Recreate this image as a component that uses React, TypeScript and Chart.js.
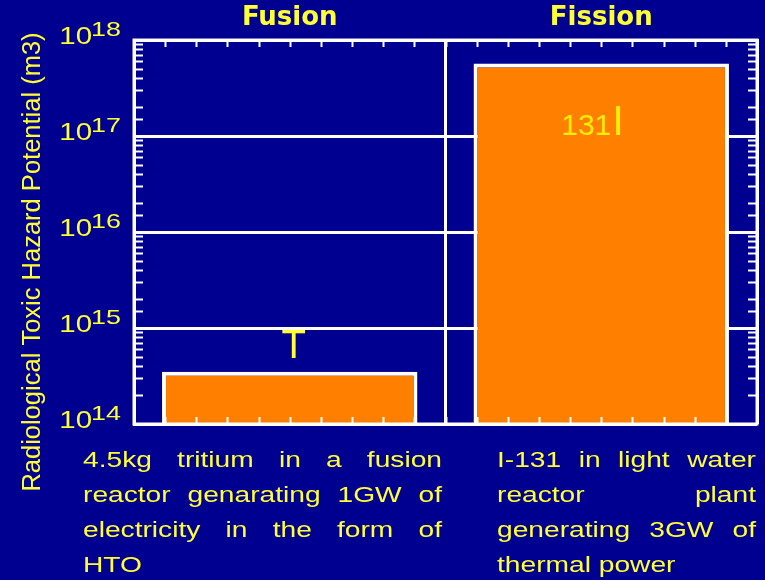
import { useEffect, useRef } from 'react';
import { Chart, registerables } from 'chart.js';

Chart.register(...registerables);

// ---- data ----
const categories = ['Fusion', 'Fission'];
const hazardPotential = [3.5e14, 5.7e17];
const yTickExponents = [14, 15, 16, 17, 18];
const yAxisTitle = 'Radiological Toxic Hazard Potential (m3)';
const nuclideSymbols = ['T', 'I'];
const massNumbers = ['', '131'];
const fusionDescription = [
  '4.5kg tritium in a fusion',
  'reactor genarating 1GW of',
  'electricity in the form of',
  'HTO',
];
const fissionDescription = [
  'I-131 in light water',
  'reactor plant',
  'generating 3GW of',
  'thermal power',
];

// ---- style ----
const NAVY = '#000090';
const YELLOW = '#ffff33';
const ORANGE = '#ff8000';
const WHITE = '#ffffff';
const SANS = '"Liberation Sans", Arial, sans-serif';
const STRETCH = 1.28;

function drawStretched(ctx: CanvasRenderingContext2D, text: string, x: number, y: number, sx: number) {
  ctx.save();
  ctx.translate(x, y);
  ctx.scale(sx, 1);
  ctx.fillText(text, 0, 0);
  ctx.restore();
}

function drawJustified(ctx: CanvasRenderingContext2D, lines: string[], x0: number, x1: number, y0: number, lh: number) {
  ctx.font = `22px ${SANS}`;
  ctx.fillStyle = YELLOW;
  ctx.textAlign = 'left';
  ctx.textBaseline = 'alphabetic';
  lines.forEach((line, i) => {
    const y = y0 + i * lh;
    const words = line.split(' ');
    const widths = words.map((w) => ctx.measureText(w).width * STRETCH);
    const total = widths.reduce((a, b) => a + b, 0);
    const last = i === lines.length - 1;
    const gap = !last && words.length > 1 ? (x1 - x0 - total) / (words.length - 1) : ctx.measureText(' ').width * STRETCH;
    let x = x0;
    words.forEach((w, k) => {
      drawStretched(ctx, w, x, y, STRETCH);
      x += widths[k] + gap;
    });
  });
}

const overlayPlugin = {
  id: 'overlay',
  beforeDraw(chart: any) {
    const ctx = chart.ctx as CanvasRenderingContext2D;
    ctx.save();
    ctx.fillStyle = NAVY;
    ctx.fillRect(0, 0, chart.width, chart.height);
    ctx.restore();
  },
  afterDraw(chart: any) {
    const ctx = chart.ctx as CanvasRenderingContext2D;
    const { left, right, top, bottom } = chart.chartArea;
    const yScale = chart.scales.y;
    ctx.save();

    // frame
    ctx.strokeStyle = WHITE;
    ctx.lineWidth = 3;
    ctx.strokeRect(left, top, right - left, bottom - top);

    // minor ticks on left/right (log positions from the scale)
    ctx.lineWidth = 2;
    ctx.beginPath();
    yScale.ticks.forEach((t: any) => {
      const lg = Math.log10(t.value);
      if (Math.abs(lg - Math.round(lg)) < 1e-6) return;
      const y = Math.round(yScale.getPixelForValue(t.value)) + 0.5;
      ctx.moveTo(left, y);
      ctx.lineTo(left + 9, y);
      ctx.moveTo(right - 9, y);
      ctx.lineTo(right, y);
    });
    // minor ticks on top/bottom
    for (let i = 1; i < 20; i++) {
      const x = Math.round(left + ((right - left) * i) / 20) + 0.5;
      ctx.moveTo(x, top);
      ctx.lineTo(x, top + 7);
      ctx.moveTo(x, bottom);
      ctx.lineTo(x, bottom - 7);
    }
    ctx.stroke();

    // y tick labels 10^n
    ctx.fillStyle = YELLOW;
    ctx.textAlign = 'left';
    ctx.textBaseline = 'alphabetic';
    yTickExponents.forEach((e) => {
      const y = yScale.getPixelForValue(Math.pow(10, e));
      ctx.font = `23px ${SANS}`;
      const baseW = ctx.measureText('10').width * STRETCH;
      ctx.font = `21px ${SANS}`;
      const expW = ctx.measureText(String(e)).width * STRETCH;
      const xr = left - 13;
      const xb = xr - expW - baseW + 1;
      ctx.font = `23px ${SANS}`;
      drawStretched(ctx, '10', xb, y + 4, STRETCH);
      ctx.font = `21px ${SANS}`;
      drawStretched(ctx, String(e), xb + baseW - 1, y - 4, STRETCH);
    });

    // y title
    ctx.save();
    ctx.translate(33, 262);
    ctx.rotate(-Math.PI / 2);
    ctx.font = `25.5px ${SANS}`;
    ctx.textAlign = 'center';
    ctx.textBaseline = 'middle';
    ctx.fillText(yAxisTitle, 0, 0);
    ctx.restore();

    // nuclide symbols on bars
    const meta = chart.getDatasetMeta(0);
    meta.data.forEach((bar: any, i: number) => {
      const mass = massNumbers[i];
      const sym = nuclideSymbols[i];
      if (!mass) {
        ctx.font = `40px ${SANS}`;
        ctx.fillStyle = YELLOW;
        ctx.textAlign = 'center';
        ctx.fillText(sym, bar.x + 4, bar.y - 14);
      } else {
        ctx.fillStyle = '#ffee00';
        ctx.textAlign = 'left';
        ctx.font = `30px ${SANS}`;
        const x0 = bar.x - 40;
        const base = bar.y + 72;
        ctx.fillText(mass, x0, base);
        const mw = ctx.measureText(mass).width;
        ctx.font = `42px ${SANS}`;
        ctx.fillText(sym, x0 + mw + 1, base);
      }
    });

    // descriptions
    drawJustified(ctx, fusionDescription, 83, 442, 467, 35);
    drawJustified(ctx, fissionDescription, 497, 756, 467, 35);

    ctx.restore();
  },
};

export default function App() {
  const ref = useRef<HTMLCanvasElement>(null);
  useEffect(() => {
    document.body.style.margin = '0';
    document.body.style.background = NAVY;
    if (!ref.current) return;
    const chart = new Chart(ref.current, {
      type: 'bar',
      data: {
        labels: categories,
        datasets: [
          {
            data: hazardPotential,
            backgroundColor: ORANGE,
            borderColor: WHITE,
            borderWidth: 4,
            barPercentage: 0.82,
            categoryPercentage: 1,
          },
        ],
      },
      options: {
        responsive: false,
        animation: false,
        devicePixelRatio: 1,
        layout: { padding: { left: 134, right: 8, top: -4, bottom: 156 } },
        plugins: { legend: { display: false }, tooltip: { enabled: false } },
        scales: {
          x: {
            position: 'top',
            grid: { color: WHITE, lineWidth: 3, drawTicks: false },
            border: { color: WHITE, width: 3 },
            ticks: {
              color: YELLOW,
              padding: 12,
              font: { family: '"DejaVu Sans", sans-serif', weight: 'bold', size: 26, lineHeight: 0.77 },
            },
          },
          y: {
            type: 'logarithmic',
            min: 1e14,
            max: 1e18,
            grid: {
              drawTicks: false,
              lineWidth: 3,
              color: (c: any) => {
                const v = c.tick ? c.tick.value : 1;
                const lg = Math.log10(v);
                return Math.abs(lg - Math.round(lg)) < 1e-6 ? WHITE : 'rgba(0,0,0,0)';
              },
            },
            border: { color: WHITE, width: 3 },
            ticks: { display: false },
          },
        },
      },
      plugins: [overlayPlugin],
    } as any);
    return () => chart.destroy();
  }, []);
  return (
    <div style={{ width: 765, height: 580 }}>
      <canvas ref={ref} width={765} height={580} style={{ display: 'block' }} />
    </div>
  );
}
